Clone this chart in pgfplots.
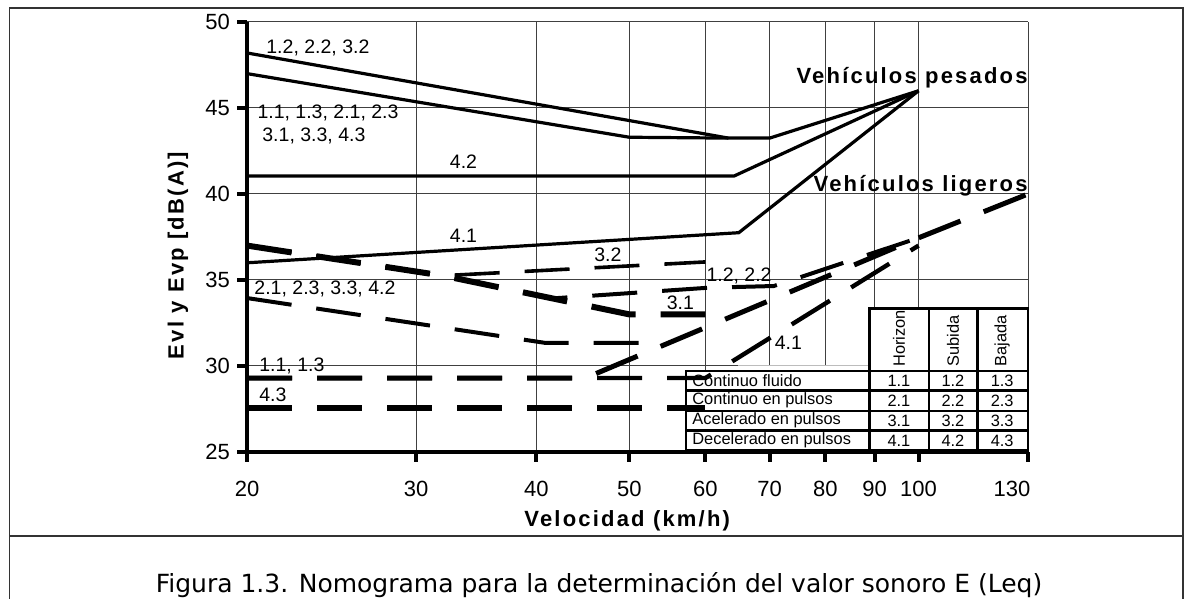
\documentclass[border=0pt]{standalone}
\usepackage{fontspec}
\setmainfont{Liberation Sans}
\newfontfamily\capfont{DejaVu Sans}
\newfontfamily\spaced[LetterSpace=10]{Liberation Sans}
\usepackage{pgfplots}
\pgfplotsset{compat=1.18}
\begin{document}
\begin{tikzpicture}
\useasboundingbox (0pt,0pt) rectangle (592.5pt,299.5pt);
\draw[line width=0.6pt, black!80] (4.75pt,-5pt) -- (4.75pt,295.5pt) -- (591.5pt,295.5pt) -- (591.5pt,-5pt);
\draw[line width=0.6pt, black!80] (4.75pt,31.5pt) -- (591.5pt,31.5pt);
\node[anchor=base, inner sep=0pt, font=\capfont\fontsize{12.5}{15}\selectfont] at (299.5pt,3.1pt) {Figura 1.3. Nomograma para la determinación del valor sonoro E (Leq)};
\node[rotate=90, inner sep=0pt, font=\spaced\bfseries\fontsize{11}{13}\selectfont] at (89pt,171.75pt) {Evl y Evp [dB(A)]};
\node[anchor=base, inner sep=0pt, font=\spaced\bfseries\fontsize{11}{13}\selectfont] at (313.6pt,36.1pt) {Velocidad (km/h)};
\begin{axis}[
  at={(123.5pt,73.5pt)}, anchor=south west,
  scale only axis, width=390.5pt, height=215pt,
  xmode=log, xmin=20, xmax=130, ymin=25, ymax=50,
  xtick={20,30,40,50,60,70,80,90,100,130},
  xticklabels={20,30,40,50,60,70,80,90,100,130\hspace*{16pt}},
  ytick={25,30,35,40,45,50},
  grid=major,
  major grid style={line width=0.5pt, draw=black!75},
  axis x line*=bottom, axis y line*=left,
  axis line style={line width=2pt},
  tick align=outside,
  major tick length=5pt,
  tick style={line width=2pt, black},
  ticklabel style={font=\fontsize{11}{13}\selectfont},
  /pgf/number format/assume math mode=true,
  xticklabel style={yshift=-6pt},
  clip=false,
]
% white table background
\fill[white] (axis cs:57.3,25) -- (axis cs:57.3,29.71) -- (axis cs:64.9,29.71) -- (axis cs:64.9,30.03) -- (axis cs:88.9,30.03) -- (axis cs:88.9,33.35) -- (axis cs:130,33.35) -- (axis cs:130,25) -- cycle;
% heavy vehicles (solid)
\addplot[black, line width=1.6pt, no marks] coordinates {(20,48.2) (63.4,43.25) (70,43.25) (100,46)};
\addplot[black, line width=1.6pt, no marks] coordinates {(20,47) (50,43.3) (63.4,43.25)};
\addplot[black, line width=1.6pt, no marks] coordinates {(20,41.05) (64.3,41.05) (100,46)};
\addplot[black, line width=1.6pt, no marks] coordinates {(20,36) (65,37.75) (100,46)};
% light vehicles (dashed)
\addplot[black, line width=3pt, dash pattern=on 22.5pt off 12.5pt, no marks] coordinates {(20,27.56) (60,27.56)};
\addplot[black, line width=2.2pt, dash pattern=on 22.5pt off 12.5pt, no marks] coordinates {(20,29.3) (60,29.3) (100,37.0)};
\addplot[black, line width=2.5pt, dash pattern=on 22.5pt off 12.5pt, no marks] coordinates {(20,29.3) (45,29.3) (100,37.45) (130,40)};
\addplot[black, line width=2pt, dash pattern=on 22.5pt off 12.5pt, no marks] coordinates {(20,33.95) (40.8,31.35) (52,31.35)};
\addplot[black, line width=3pt, dash pattern=on 22.5pt off 12.5pt, no marks] coordinates {(20,37) (32,35.25) (50,33) (60,33)};
\addplot[black, line width=1.8pt, dash pattern=on 22.5pt off 12.5pt, no marks] coordinates {(20,37) (32,35.25) (60,36.05)};
\addplot[black, line width=2pt, dash pattern=on 22.5pt off 12.5pt, no marks] coordinates {(20,37) (32,35.25) (41.6,33.93) (60.4,34.55) (70.7,34.65) (100,37.45)};
% curve labels
\begin{scope}[every node/.style={inner sep=0pt, font=\fontsize{9.75}{11}\selectfont}]
\node[anchor=base west] at (axis cs:20.93,48.18) {1.2, 2.2, 3.2};
\node[anchor=base west] at (axis cs:20.49,44.4) {1.1, 1.3, 2.1, 2.3};
\node[anchor=base west] at (axis cs:20.73,43.08) {3.1, 3.3, 4.3};
\node[anchor=base] at (axis cs:33.6,41.49) {4.2};
\node[anchor=base] at (axis cs:33.6,37.17) {4.1};
\node[anchor=base west] at (axis cs:20.34,34.13) {2.1, 2.3, 3.3, 4.2};
\node[anchor=base west] at (axis cs:20.58,29.67) {1.1, 1.3};
\node[anchor=base west] at (axis cs:20.58,27.92) {4.3};
\node[anchor=base] at (axis cs:47.5,36.06) {3.2};
\node[anchor=base west] at (axis cs:60.1,34.9) {1.2, 2.2};
\node[anchor=base] at (axis cs:56.5,33.26) {3.1};
\node[anchor=base] at (axis cs:73.2,30.93) {4.1};
\end{scope}
\node[anchor=base east, inner sep=0pt, font=\spaced\bfseries\fontsize{11}{13}\selectfont] at (axis cs:130,46.44) {Vehículos pesados};
\node[anchor=base east, inner sep=0pt, font=\spaced\bfseries\fontsize{11}{13}\selectfont] at (axis cs:130,40.13) {Vehículos ligeros};
% table
\draw[line width=1.2pt] (axis cs:57.3,25.08) rectangle (axis cs:130,29.71);
\draw[line width=1.1pt] (axis cs:57.3,28.58) -- (axis cs:130,28.58);
\draw[line width=1.1pt] (axis cs:57.3,27.38) -- (axis cs:130,27.38);
\draw[line width=1.1pt] (axis cs:57.3,26.25) -- (axis cs:130,26.25);
\draw[line width=1.2pt] (axis cs:88.9,25.08) -- (axis cs:88.9,33.35) -- (axis cs:130,33.35) -- (axis cs:130,25.08);
\draw[line width=1.2pt] (axis cs:102.6,25.08) -- (axis cs:102.6,33.35);
\draw[line width=1.2pt] (axis cs:115.2,25.08) -- (axis cs:115.2,33.35);
\begin{scope}[every node/.style={inner sep=0pt, font=\fontsize{8.2}{9}\selectfont}]
\node[anchor=west] at (axis cs:58.1,29.15) {Continuo fluido};
\node[anchor=west] at (axis cs:58.1,27.98) {Continuo en pulsos};
\node[anchor=west] at (axis cs:58.1,26.82) {Acelerado en pulsos};
\node[anchor=west] at (axis cs:58.1,25.67) {Decelerado en pulsos};
\node at (axis cs:95.4,29.15) {1.1};
\node at (axis cs:108.6,29.15) {1.2};
\node at (axis cs:122.2,29.15) {1.3};
\node at (axis cs:95.4,27.98) {2.1};
\node at (axis cs:108.6,27.98) {2.2};
\node at (axis cs:122.2,27.98) {2.3};
\node at (axis cs:95.4,26.82) {3.1};
\node at (axis cs:108.6,26.82) {3.2};
\node at (axis cs:122.2,26.82) {3.3};
\node at (axis cs:95.4,25.67) {4.1};
\node at (axis cs:108.6,25.67) {4.2};
\node at (axis cs:122.2,25.67) {4.3};
\node[rotate=90, anchor=west] at (axis cs:95.4,29.94) {Horizon};
\node[rotate=90, anchor=west] at (axis cs:108.6,29.94) {Subida};
\node[rotate=90, anchor=west] at (axis cs:122.2,29.94) {Bajada};
\end{scope}
\end{axis}
\end{tikzpicture}
\end{document}
